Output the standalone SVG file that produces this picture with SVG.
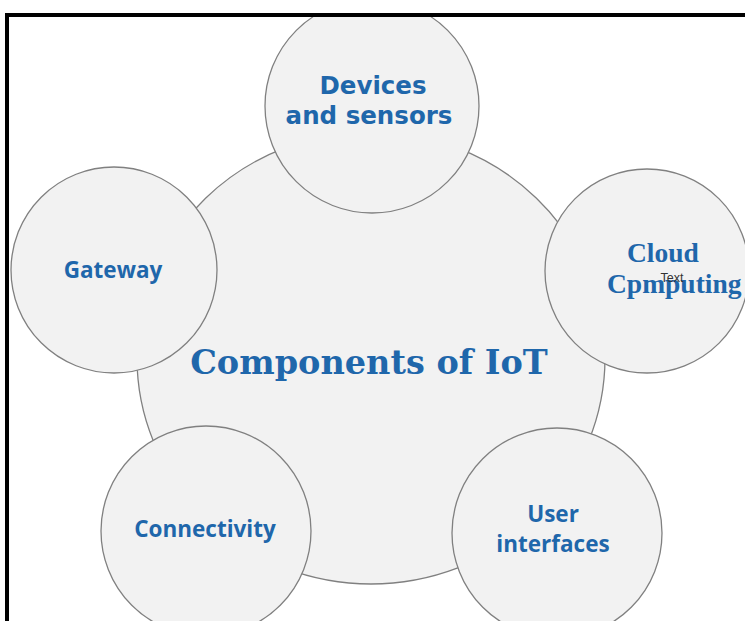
<svg xmlns="http://www.w3.org/2000/svg" width="745" height="621" viewBox="0 0 745 621">
<style>
.c{fill:#f2f2f2;stroke:#808080;stroke-width:1.3}
.s{font-family:"Open Sans","Noto Sans",sans-serif;font-weight:bold;font-size:22.5px;fill:#1f67ab;text-anchor:middle}
.v{font-family:"DejaVu Sans",Verdana,sans-serif;font-weight:bold;font-size:24.5px;fill:#1f67ab;text-anchor:middle}
.t{font-family:"Liberation Serif","Times New Roman",serif;font-weight:bold;font-size:27.5px;fill:#1f67ab}
</style>
<rect width="745" height="621" fill="#fff"/>
<g id="components-of-iot">
<ellipse class="c" cx="371" cy="358" rx="234" ry="226"/>
<text x="369" y="374" font-family="'DejaVu Serif',serif" font-weight="bold" font-size="33.5" fill="#1f67ab" text-anchor="middle">Components of IoT</text>
</g>
<g id="devices-and-sensors">
<circle class="c" cx="372" cy="106" r="107"/>
<text class="v" x="373" y="94">Devices</text>
<text class="v" x="369" y="124">and sensors</text>
</g>
<g id="gateway">
<circle class="c" cx="114" cy="270" r="103"/>
<text class="s" x="113" y="278">Gateway</text>
</g>
<g id="cloud-computing">
<circle class="c" cx="647" cy="271" r="102"/>
<text class="t" x="627" y="262">Cloud</text>
<text class="t" x="607" y="293" font-size="28.5">Cpmputing</text>
<text x="672" y="282" font-family="'Liberation Sans',Arial,sans-serif" font-size="12.5" fill="#333" text-anchor="middle">Text</text>
</g>
<g id="connectivity">
<circle class="c" cx="206" cy="531" r="105"/>
<text class="s" x="205" y="537">Connectivity</text>
</g>
<g id="user-interfaces">
<circle class="c" cx="557" cy="533" r="105"/>
<text class="s" x="553" y="522">User</text>
<text class="s" x="553" y="552">interfaces</text>
</g>
<g id="connectors"/>
<g id="frame">
<rect x="0" y="0" width="745" height="13" fill="#fff"/>
<rect x="0" y="0" width="5" height="621" fill="#fff"/>
<rect x="5" y="13" width="740" height="4" fill="#000"/>
<rect x="5" y="13" width="4" height="608" fill="#000"/>
</g>
</svg>
